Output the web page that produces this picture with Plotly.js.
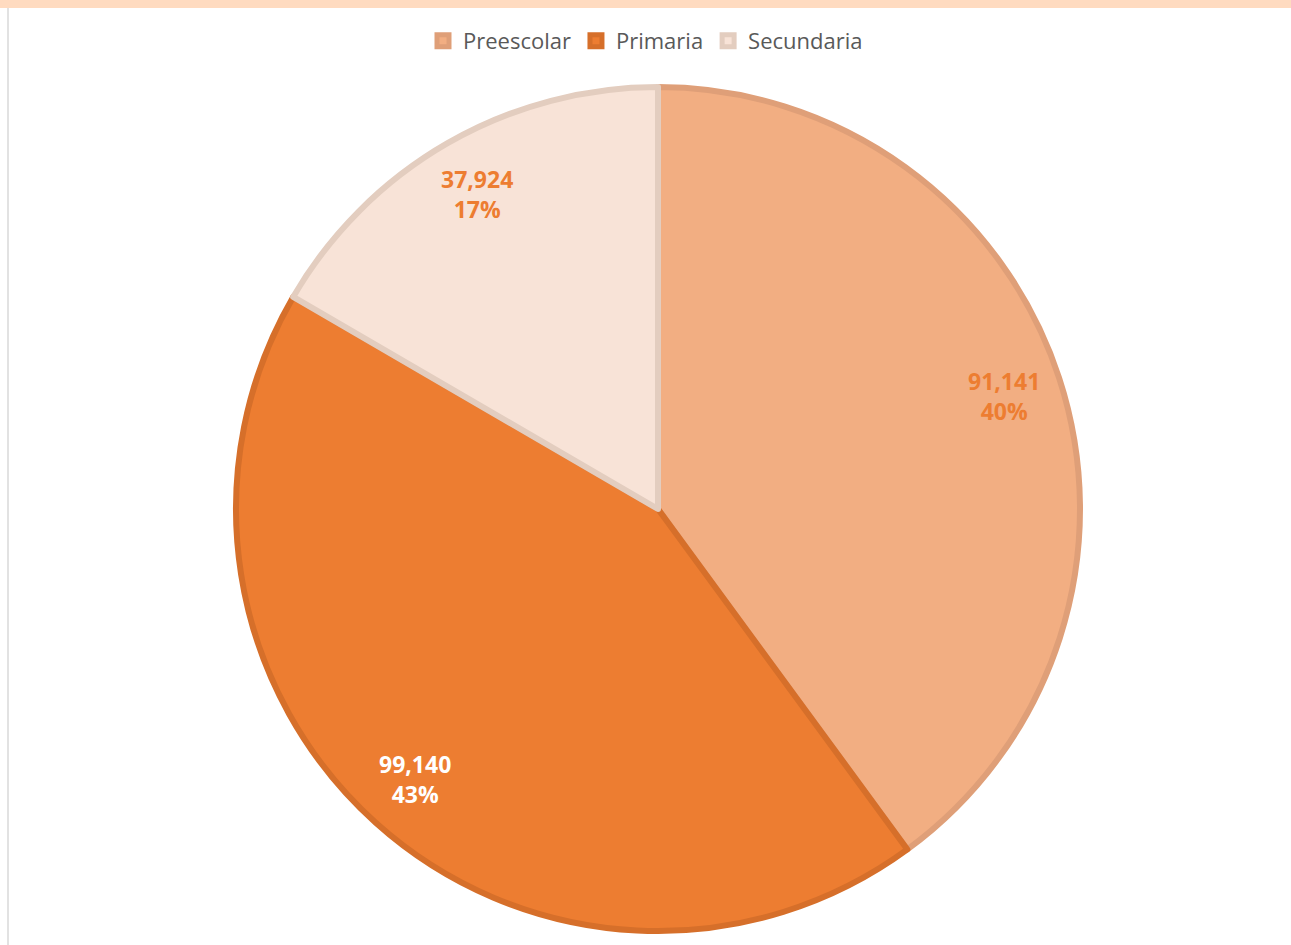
<!DOCTYPE html>
<html>
<head>
<meta charset="utf-8">
<script src="https://cdn.plot.ly/plotly-3.0.1.min.js"></script>
<style>html,body{margin:0;padding:0;background:#fff;}#chart{width:1291px;height:945px;}</style>
</head>
<body>
<div id="chart"></div>
<script>
const categories = ["Preescolar", "Primaria", "Secundaria"];
const values = [91141, 99140, 37924];
const fillColors = ["#F2AE82", "#ED7D31", "#F8E3D7"];
const borderColors = ["#DF9F78", "#D66F2A", "#E3CDBF"];
const labelColors = ["#ED7D31", "#FFFFFF", "#ED7D31"];

const W = 1291, H = 945;
// pie geometry (pixels)
const pieLeft = 235, pieRight = 1081, pieTop = 87, pieBottom = 931;
const cx = (pieLeft + pieRight) / 2, cy = (pieTop + pieBottom) / 2;
const R = (pieRight - pieLeft) / 2;
const labelRadius = 0.86;

const trace = {
  type: "pie",
  labels: categories,
  values: values,
  sort: false,
  direction: "clockwise",
  rotation: 0,
  marker: { colors: fillColors, line: { color: borderColors, width: 6 } },
  textinfo: "none",
  hoverinfo: "none",
  domain: { x: [pieLeft / W, pieRight / W], y: [(H - pieBottom) / H, (H - pieTop) / H] }
};

// data labels placed along each slice's bisector, computed from the values
const total = values.reduce((a, b) => a + b, 0);
const annotations = [];
let cum = 0;
values.forEach((v, i) => {
  const frac = v / total;
  const mid = (cum + frac / 2) * 2 * Math.PI;
  cum += frac;
  const px = cx + Math.sin(mid) * R * labelRadius;
  const py = cy - Math.cos(mid) * R * labelRadius;
  annotations.push({
    xref: "paper", yref: "paper", x: px / W, y: 1 - py / H,
    xanchor: "center", yanchor: "middle", showarrow: false,
    text: v.toLocaleString("en-US") + "<br>" + Math.round(frac * 100) + "%",
    font: { family: "Open Sans, sans-serif", size: 23, color: labelColors[i], weight: "bold" }
  });
});

const layout = {
  width: W, height: H,
  margin: { l: 0, r: 0, t: 0, b: 0 },
  paper_bgcolor: "#FFFFFF",
  showlegend: true,
  legend: {
    orientation: "h", x: 0.5, xanchor: "center", y: (H - 41) / H, yanchor: "middle",
    font: { family: "Open Sans, sans-serif", size: 22, color: "#595959" },
    traceorder: "normal", itemclick: false
  },
  annotations: annotations,
  shapes: [
    { type: "rect", xref: "paper", yref: "paper", x0: 0, x1: 1, y0: (H - 8) / H, y1: 1, fillcolor: "#FFDBC0", line: { width: 0 } },
    { type: "line", xref: "paper", yref: "paper", x0: 8 / W, x1: 8 / W, y0: 0, y1: (H - 8) / H, line: { color: "#D9D9D9", width: 1.5 } }
  ]
};

Plotly.newPlot("chart", [trace], layout, { displayModeBar: false, staticPlot: true });
</script>
</body>
</html>
